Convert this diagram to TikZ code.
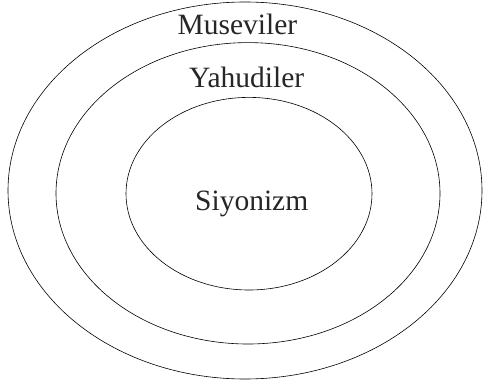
\documentclass[tikz,border=0pt]{standalone}
\usepackage{fontspec}
\setmainfont{Liberation Serif}
\usepackage{tikz}

\begin{document}
\begin{tikzpicture}[x=1pt, y=1pt, line width=0.6pt,
    lbl/.style={anchor=base, font=\fontsize{29.5}{34}\selectfont, text=black!85}]
    \useasboundingbox (0,0) rectangle (483,384);

    % Outer ring
    \draw (245,193.5) ellipse (237 and 188.5);
    \node[lbl] (muse) at (237.5,349) {Museviler};

    % Middle ring
    \draw (248,190.7) ellipse (192 and 150.7);
    \node[lbl] (yahu) at (246.7,296) {Yahudiler};

    % Inner ring
    \draw (249,190.3) ellipse (123 and 96.3);
    \node[lbl] (siyo) at (251.7,174) {Siyonizm};
\end{tikzpicture}
\end{document}
